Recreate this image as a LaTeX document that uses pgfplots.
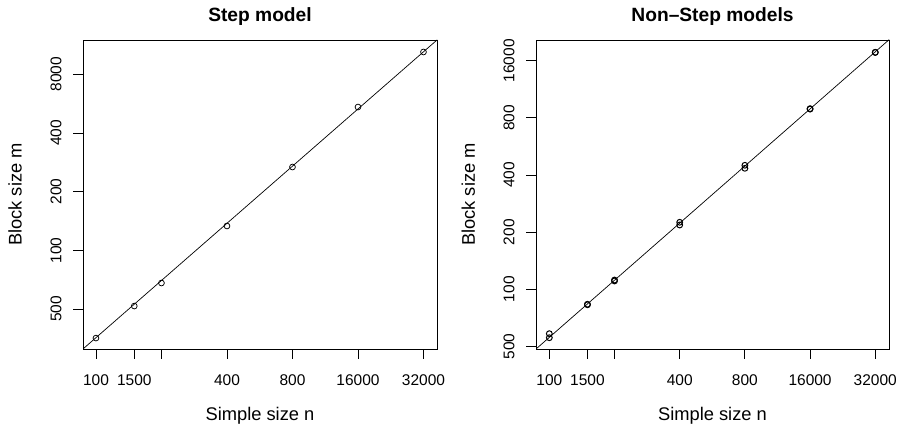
\documentclass[border=0pt]{standalone}
\usepackage{fontspec}
\setmainfont{Liberation Sans}
\usepackage{pgfplots}
\pgfplotsset{compat=1.18}

% step model: one point per sample size
\pgfplotstableread{
n m
1000 355
1500 518
2000 680
4000 1333
8000 2674
16000 5430
32000 10400
}\stepdata

% non-step models: several fits per sample size (overlapping)
\pgfplotstableread{
n m
1000 583
1000 555
1500 833
1500 828
2000 1118
2000 1105
4000 2253
4000 2180
8000 4500
8000 4338
16000 8945
16000 8900
32000 17740
32000 17700
}\nonstepdata

\begin{document}
\begin{tikzpicture}
\path[use as bounding box] (0,0) rectangle (911pt,429pt);

\begin{axis}[
  at={(83pt,80pt)}, anchor=south west,
  scale only axis, width=354pt, height=309pt,
  xmode=log, ymode=log, log basis x=2, log basis y=2,
  axis line style={line width=0.8pt},
  tick align=outside, major tick length=10pt,
  tick style={black, line width=0.8pt},
  xtick pos=bottom, ytick pos=left,
  /pgf/number format/assume math mode=true,
  ticklabel style={font=\fontsize{15.5}{17}\selectfont},
  xticklabel shift=12pt, yticklabel shift=8pt,
  yticklabel style={rotate=90, anchor=south},
  label style={font=\fontsize{18.3}{20}\selectfont},
  xlabel={Simple size n}, ylabel={Block size m},
  xlabel style={at={(axis description cs:0.5,-0.217)}, anchor=center},
  ylabel style={at={(axis description cs:-0.192,0.5)}, anchor=center},
  title style={at={(axis description cs:0.5,1.058)}, anchor=center,
    font=\bfseries\fontsize{19.2}{21}\selectfont},
  title={Step model},
  xtick={1000,1500,2000,4000,8000,16000,32000},
  xticklabels={100,1500,,400,800,16000,32000},
  xmin=872, xmax=36920,
  ymin=312, ymax=11980,
  ytick={500,1000,2000,4000,8000},
  yticklabels={500,100,200,400,8000},
]
\addplot[black, line width=0.7pt] coordinates {(800,287) (40000,12950)};
\addplot[only marks, mark=o, mark size=2.9pt, black, mark options={line width=0.75pt}]
  table[x=n, y=m] {\stepdata};
\end{axis}

\begin{axis}[
  at={(536pt,80pt)}, anchor=south west,
  scale only axis, width=353pt, height=309pt,
  xmode=log, ymode=log, log basis x=2, log basis y=2,
  axis line style={line width=0.8pt},
  tick align=outside, major tick length=10pt,
  tick style={black, line width=0.8pt},
  xtick pos=bottom, ytick pos=left,
  /pgf/number format/assume math mode=true,
  ticklabel style={font=\fontsize{15.5}{17}\selectfont},
  xticklabel shift=12pt, yticklabel shift=8pt,
  yticklabel style={rotate=90, anchor=south},
  label style={font=\fontsize{18.3}{20}\selectfont},
  xlabel={Simple size n}, ylabel={Block size m},
  xlabel style={at={(axis description cs:0.5,-0.217)}, anchor=center},
  ylabel style={at={(axis description cs:-0.192,0.5)}, anchor=center},
  title style={at={(axis description cs:0.5,1.058)}, anchor=center,
    font=\bfseries\fontsize{19.2}{21}\selectfont},
  title={Non\textendash Step models},
  xtick={1000,1500,2000,4000,8000,16000,32000},
  xticklabels={100,1500,,400,800,16000,32000},
  xmin=868, xmax=37040,
  ymin=484, ymax=20590,
  ytick={500,1000,2000,4000,8000,16000},
  yticklabels={500,100,200,400,800,16000},
]
\addplot[black, line width=0.7pt] coordinates {(800,446) (40000,22300)};
\addplot[only marks, mark=o, mark size=2.9pt, black, mark options={line width=1pt}]
  table[x=n, y=m] {\nonstepdata};
\end{axis}
\end{tikzpicture}
\end{document}
